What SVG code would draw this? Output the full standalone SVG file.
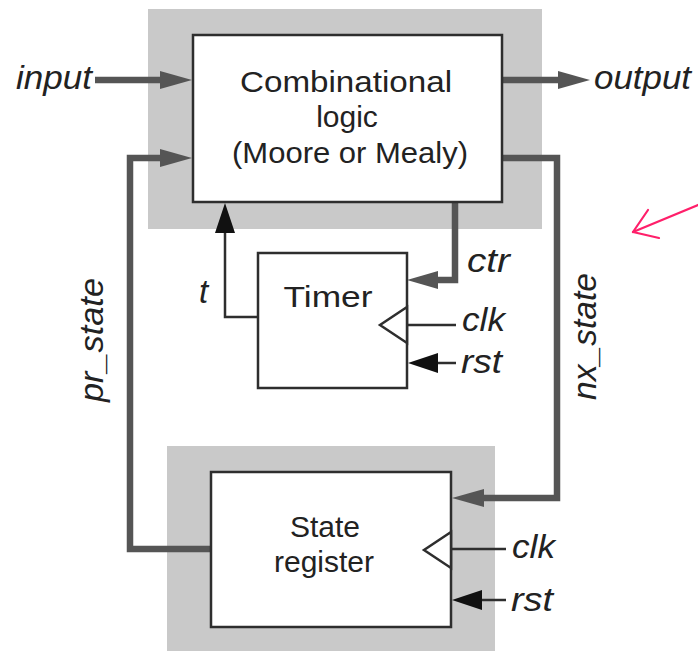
<svg xmlns="http://www.w3.org/2000/svg" width="698" height="651" viewBox="0 0 698 651">
  <style>
    .bg { fill: #c9c9c9; }
    .box { fill: #ffffff; stroke: #2e2e2e; stroke-width: 2.5; }
    .bus { fill: none; stroke: #555555; stroke-width: 6.5; stroke-linejoin: miter; }
    .wire { fill: none; stroke: #2e2e2e; stroke-width: 2.5; }
    .busHead { fill: #555555; }
    .wireHead { fill: #111111; }
    .clkTri { fill: #ffffff; stroke: #2e2e2e; stroke-width: 2.5; stroke-linejoin: miter; }
    .title { font-family: "Liberation Sans", Arial, sans-serif; font-size: 30px; fill: #222222; text-anchor: middle; }
    .sig { font-family: "Liberation Sans", Arial, sans-serif; font-size: 33px; font-style: italic; fill: #222222; }
    .mark { fill: none; stroke: #ff1f6a; stroke-width: 2.2; stroke-linecap: round; stroke-linejoin: round; }
  </style>

  <!-- shaded regions behind the combinational block and state register -->
  <rect class="bg" x="148" y="9" width="394" height="220"/>
  <rect class="bg" x="167" y="446" width="328" height="205"/>

  <g id="connectors">
    <!-- input -->
    <line class="bus" x1="95" y1="80" x2="164" y2="80"/>
    <polygon class="busHead" points="192,80 160,71 160,89"/>
    <!-- output -->
    <line class="bus" x1="502" y1="80" x2="563" y2="80"/>
    <polygon class="busHead" points="590,80 558,71 558,89"/>
    <!-- pr_state feedback -->
    <polyline class="bus" points="211,549 130,549 130,158 164,158"/>
    <polygon class="busHead" points="192,158 160,149 160,167"/>
    <!-- nx_state -->
    <polyline class="bus" points="502,158 557,158 557,498 481,498"/>
    <polygon class="busHead" points="452,498 484,489 484,507"/>
    <!-- ctr -->
    <polyline class="bus" points="455,202 455,280 435,280"/>
    <polygon class="busHead" points="407,280 438,271 438,289"/>
    <!-- t -->
    <polyline class="wire" points="258,317 225,317 225,230"/>
    <polygon class="wireHead" points="225,203 215,233 235,233"/>
    <!-- timer clk / rst -->
    <line class="wire" x1="407" y1="325" x2="456" y2="325"/>
    <line class="wire" x1="456" y1="363" x2="434" y2="363"/>
    <polygon class="wireHead" points="408,363 438,353 438,373"/>
    <!-- state register clk / rst -->
    <line class="wire" x1="451" y1="549" x2="506" y2="549"/>
    <line class="wire" x1="506" y1="600" x2="478" y2="600"/>
    <polygon class="wireHead" points="452,600 482,590 482,610"/>
  </g>

  <g id="comb-logic">
    <rect class="box" x="193" y="35" width="309" height="167"/>
    <text class="title" x="346" y="92" font-size="31" textLength="212" lengthAdjust="spacingAndGlyphs">Combinational</text>
    <text class="title" x="347" y="127" font-size="31">logic</text>
    <text class="title" x="350" y="163" font-size="31" textLength="236" lengthAdjust="spacingAndGlyphs">(Moore or Mealy)</text>
  </g>

  <g id="timer">
    <rect class="box" x="258" y="253" width="149" height="135"/>
    <text class="title" x="328" y="307" font-size="33" textLength="89" lengthAdjust="spacingAndGlyphs">Timer</text>
    <polygon class="clkTri" points="407,307 380,325 407,343"/>
  </g>

  <g id="state-register">
    <rect class="box" x="211" y="472" width="240" height="155"/>
    <text class="title" x="325" y="537" font-size="31">State</text>
    <text class="title" x="324" y="572" font-size="31">register</text>
    <polygon class="clkTri" points="451,532 424,550 451,568"/>
  </g>

  <g id="labels">
    <text class="sig" x="16" y="89" textLength="76" lengthAdjust="spacingAndGlyphs">input</text>
    <text class="sig" x="594" y="89" textLength="97" lengthAdjust="spacingAndGlyphs">output</text>
    <text class="sig" x="467" y="272" textLength="43" lengthAdjust="spacingAndGlyphs">ctr</text>
    <text class="sig" x="199" y="303">t</text>
    <text class="sig" x="462" y="331" textLength="43" lengthAdjust="spacingAndGlyphs">clk</text>
    <text class="sig" x="461" y="373" textLength="41" lengthAdjust="spacingAndGlyphs">rst</text>
    <text class="sig" x="512" y="558" textLength="43" lengthAdjust="spacingAndGlyphs">clk</text>
    <text class="sig" x="511" y="611" textLength="42" lengthAdjust="spacingAndGlyphs">rst</text>
    <text class="sig" transform="translate(103,402) rotate(-90)" textLength="124" lengthAdjust="spacingAndGlyphs">pr_state</text>
    <text class="sig" transform="translate(596,400) rotate(-90)" textLength="127" lengthAdjust="spacingAndGlyphs">nx_state</text>
  </g>

  <!-- hand-drawn pointer on the right -->
  <g id="pointer">
    <polyline class="mark" points="698,205 633,232"/>
    <polyline class="mark" points="648,210 633,232 659,238"/>
  </g>
</svg>
